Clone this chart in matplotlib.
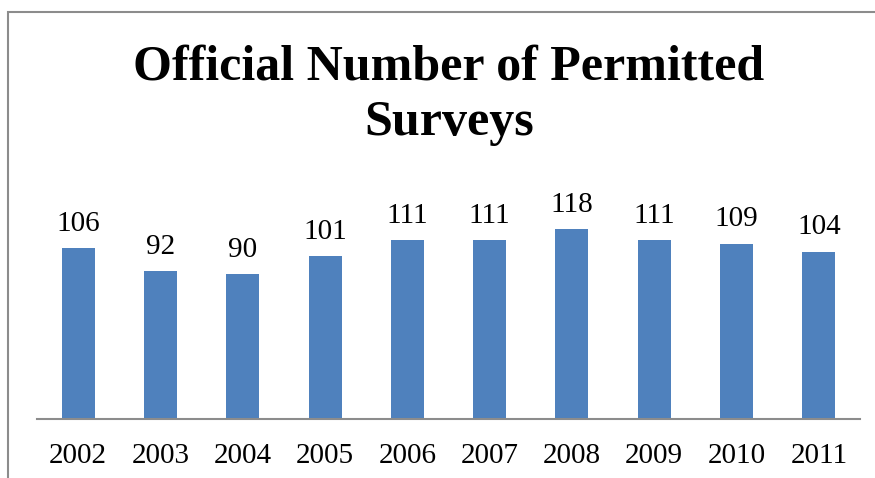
import matplotlib
matplotlib.use("Agg")
import matplotlib.pyplot as plt
from matplotlib.patches import Rectangle

years = ["2002", "2003", "2004", "2005", "2006", "2007", "2008", "2009", "2010", "2011"]
surveys = [106, 92, 90, 101, 111, 111, 118, 111, 109, 104]
title_lines = ["Official Number of Permitted", "Surveys"]

W, H = 875, 478
fig = plt.figure(figsize=(W / 100, H / 100), dpi=100)

# outer chart frame (only left and top edges fall inside the image)
fig.patches.append(Rectangle((8 / W, -0.1), 1.2, (H - 12) / H + 0.1,
                             transform=fig.transFigure, fill=False,
                             edgecolor="#8c8c8c", linewidth=1.5))

ax_bottom = (H - 419) / H
ymax = 140
ax_height = ymax * 1.61 / H
ax = fig.add_axes([37 / W, ax_bottom, (860 - 37) / W, ax_height])

x = range(len(years))
ax.bar(x, surveys, width=0.4, color="#4F81BD")
ax.set_xlim(-0.5, len(years) - 0.5)
ax.set_ylim(0, ymax)
ax.set_xticks(list(x))
ax.set_xticklabels(years, fontsize=21, family="Liberation Serif")
ax.tick_params(axis="x", length=0, pad=17)
ax.set_yticks([])
for s in ["left", "right", "top"]:
    ax.spines[s].set_visible(False)
ax.spines["bottom"].set_color("#8c8c8c")
ax.spines["bottom"].set_linewidth(1.5)

for xi, v in zip(x, surveys):
    ax.annotate(str(v), (xi, v), xytext=(0, 8), textcoords="offset points",
                ha="center", va="bottom", fontsize=21, family="Liberation Serif")

fig.text(449 / W, 1 - 79 / H, title_lines[0], ha="center", va="baseline",
         fontsize=36, fontweight="bold", family="Liberation Serif")
fig.text(449 / W, 1 - 135 / H, title_lines[1], ha="center", va="baseline",
         fontsize=36, fontweight="bold", family="Liberation Serif")

fig.savefig("out.png", dpi=100)
